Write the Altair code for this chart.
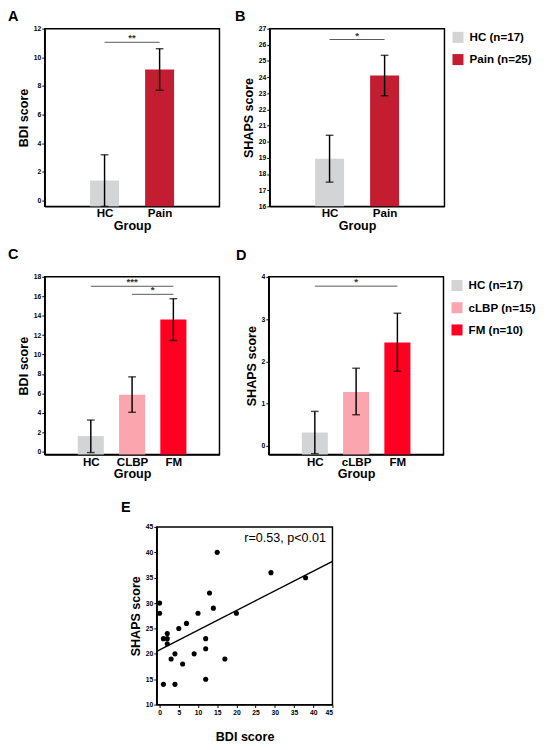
import altair as alt
import pandas as pd

FONT = "Liberation Sans"

# ---------------- Panels A / B : HC vs Pain ----------------
ab_groups = ["HC", "Pain"]
ab_legend = ["HC (n=17)", "Pain (n=25)"]
ab_colors = ["#d2d4d6", "#c21d30"]

a_bdi_mean = [1.4, 9.15]
a_bdi_lo = [-0.4, 7.7]
a_bdi_hi = [3.2, 10.6]
a_sig_start = [1]
a_sig_end = [2]
a_sig_y = [11.05]
a_sig_label = ["**"]

b_shaps_mean = [18.95, 24.1]
b_shaps_lo = [17.5, 22.85]
b_shaps_hi = [20.4, 25.35]
b_sig_start = [1]
b_sig_end = [2]
b_sig_y = [26.33]
b_sig_label = ["*"]

# ---------------- Panels C / D : HC vs cLBP vs FM ----------------
c_groups = ["HC", "CLBP", "FM"]
d_groups = ["HC", "cLBP", "FM"]
cd_legend = ["HC (n=17)", "cLBP (n=15)", "FM (n=10)"]
cd_colors = ["#d2d4d6", "#fba5ae", "#fd0022"]

c_bdi_mean = [1.6, 5.85, 13.6]
c_bdi_lo = [-0.1, 4.05, 11.45]
c_bdi_hi = [3.25, 7.7, 15.75]
c_sig_start = [1, 2]
c_sig_end = [3, 3]
c_sig_y = [17.03, 16.2]
c_sig_label = ["***", "*"]

d_shaps_mean = [0.32, 1.28, 2.45]
d_shaps_lo = [-0.18, 0.74, 1.77]
d_shaps_hi = [0.82, 1.84, 3.14]
d_sig_start = [1]
d_sig_end = [3]
d_sig_y = [3.78]
d_sig_label = ["*"]

# ---------------- Panel E : scatter ----------------
e_bdi = [0, 0, 1, 1, 2, 2, 2, 3, 4, 4, 5, 6, 7, 9, 10, 12, 12, 12, 13, 14, 15, 17, 20, 29, 38]
e_shaps = [30, 28, 23, 14, 24, 23, 22, 19, 20, 14, 25, 18, 26, 20, 28, 23, 21, 15, 32, 29, 40, 19, 28, 36, 35]
e_annotation = "r=0.53, p<0.01"


def bar_panel(letter, groups, legend_labels, colors, mean, lo, hi, ydomain, yticks, ytitle,
              sig_start, sig_end, sig_y, sig_label, bar_size, show_legend, letter_dx, letter_offset):
    n = len(groups)
    df = pd.DataFrame({
        "pos": list(range(1, n + 1)),
        "group": groups,
        "legend": legend_labels,
        "mean": mean,
        "lo": lo,
        "hi": hi,
    })
    label_expr = "[" + ",".join(["''"] + ["'%s'" % g for g in groups]) + "][datum.value]"
    x_scale = alt.Scale(domain=[0, n + 1], nice=False, zero=False)
    x_axis = alt.Axis(values=list(range(1, n + 1)), labelExpr=label_expr, title="Group",
                      ticks=False, labelPadding=2, labelFontSize=12, labelFontWeight="bold",
                      titleFontSize=13, titlePadding=1, grid=False,
                      domainColor="black", domainWidth=1.5, labelColor="black")
    y_scale = alt.Scale(domain=ydomain, nice=False, zero=False)
    y_axis = alt.Axis(values=yticks, title=ytitle, labelFontSize=7, labelFontWeight="bold",
                      labelOverlap=False, labelBound=False,
                      tickSize=3, labelPadding=1, titleFontSize=13, titlePadding=3, grid=False,
                      domainColor="black", domainWidth=1.5, tickColor="black",
                      labelColor="black")
    xs = lambda f: alt.X(f, scale=x_scale, axis=x_axis)
    ys = lambda f: alt.Y(f, scale=y_scale, axis=y_axis)

    if show_legend:
        legend = alt.Legend(orient="none", legendX=189, legendY=3, title=None,
                            labelFont=FONT, labelFontWeight="bold", labelFontSize=12,
                            labelColor="black", symbolType="square", symbolSize=130,
                            symbolStrokeWidth=0, symbolOpacity=1, rowPadding=11, labelOffset=6)
    else:
        legend = None
    color = alt.Color("legend:N", scale=alt.Scale(domain=legend_labels, range=colors), legend=legend)

    bars = alt.Chart(df).mark_bar(size=bar_size, opacity=1).encode(
        x=xs("pos:Q"), y=ys("mean:Q"), y2=alt.datum(ydomain[0]), color=color)
    err = alt.Chart(df).mark_rule(color="black", strokeWidth=1.5).encode(
        x=xs("pos:Q"), y=ys("lo:Q"), y2="hi:Q")
    cap_lo = alt.Chart(df).mark_tick(orient="horizontal", size=8, thickness=1.5, color="black").encode(
        x=xs("pos:Q"), y=ys("lo:Q"))
    cap_hi = alt.Chart(df).mark_tick(orient="horizontal", size=8, thickness=1.5, color="black").encode(
        x=xs("pos:Q"), y=ys("hi:Q"))

    sig = pd.DataFrame({"start": sig_start, "end": sig_end, "level": sig_y, "label": sig_label})
    sig_line = alt.Chart(sig).mark_rule(color="#555555", strokeWidth=1).encode(
        x=xs("start:Q"), x2="end:Q", y=ys("level:Q"))
    sig_text = alt.Chart(sig).transform_calculate(mid="(datum.start + datum.end) / 2").mark_text(
        baseline="bottom", dy=1, fontSize=10, fontWeight="bold", font=FONT, color="#333333").encode(
        x=xs("mid:Q"), y=ys("level:Q"), text="label:N")

    return alt.layer(bars, err, cap_lo, cap_hi, sig_line, sig_text).properties(
        width=181, height=184,
        title=alt.TitleParams(letter, anchor="start", frame="group", dx=letter_dx,
                              offset=letter_offset, fontSize=15, fontWeight="bold", font=FONT),
    )


A = bar_panel("A", ab_groups, ab_legend, ab_colors, a_bdi_mean, a_bdi_lo, a_bdi_hi,
              [-0.4, 12], list(range(0, 13, 2)), "BDI score",
              a_sig_start, a_sig_end, a_sig_y, a_sig_label, 30, False, -38, 1)
B = bar_panel("B", ab_groups, ab_legend, ab_colors, b_shaps_mean, b_shaps_lo, b_shaps_hi,
              [16, 27], list(range(16, 28)), "SHAPS score",
              b_sig_start, b_sig_end, b_sig_y, b_sig_label, 30, True, -36, 1)
C = bar_panel("C", c_groups, cd_legend, cd_colors, c_bdi_mean, c_bdi_lo, c_bdi_hi,
              [-0.3, 18], list(range(0, 19, 2)), "BDI score",
              c_sig_start, c_sig_end, c_sig_y, c_sig_label, 27, False, -38, 12)
D = bar_panel("D", d_groups, cd_legend, cd_colors, d_shaps_mean, d_shaps_lo, d_shaps_hi,
              [-0.2, 4], list(range(0, 5)), "SHAPS score",
              d_sig_start, d_sig_end, d_sig_y, d_sig_label, 27, True, -34, 10)

# ---------------- Panel E ----------------
edf = pd.DataFrame({"bdi": e_bdi, "shaps": e_shaps})
ex_scale = alt.Scale(domain=[-0.75, 45], nice=False, zero=False)
ex_axis = alt.Axis(values=list(range(0, 46, 5)), title="BDI score", labelFontSize=7,
                   labelFontWeight="bold", labelOverlap=False, labelBound=False,
                   tickSize=3, labelPadding=1, titleFontSize=13,
                   titlePadding=16, grid=False, domainColor="black", domainWidth=1.5,
                   tickColor="black", labelColor="black")
ey_scale = alt.Scale(domain=[10, 45], nice=False, zero=False)
ey_axis = alt.Axis(values=list(range(10, 46, 5)), title="SHAPS score", labelFontSize=7,
                   labelFontWeight="bold", labelOverlap=False, labelBound=False,
                   tickSize=3, labelPadding=1, titleFontSize=13,
                   titlePadding=3, grid=False, domainColor="black", domainWidth=1.5,
                   tickColor="black", labelColor="black")
ex = alt.X("bdi:Q", scale=ex_scale, axis=ex_axis)
ey = alt.Y("shaps:Q", scale=ey_scale, axis=ey_axis)
pts = alt.Chart(edf).mark_circle(size=28, color="black", opacity=1).encode(x=ex, y=ey)
reg = alt.Chart(edf).transform_regression("bdi", "shaps", extent=[-0.75, 45]).mark_line(
    color="black", strokeWidth=1.5).encode(x=ex, y=ey)
ann = alt.Chart(pd.DataFrame({"t": [e_annotation]})).mark_text(
    align="right", baseline="middle", fontSize=13, font=FONT, color="black").encode(
    x=alt.datum(43.3, scale=ex_scale, axis=ex_axis), y=alt.datum(42.7, scale=ey_scale, axis=ey_axis),
    text="t:N")
E = alt.layer(pts, reg, ann).properties(
    width=182, height=184,
    title=alt.TitleParams("E", anchor="start", frame="group", dx=-37, offset=8,
                          fontSize=15, fontWeight="bold", font=FONT),
)

spacer = alt.Chart(pd.DataFrame({"a": [0]})).mark_point(opacity=0).encode(
    x=alt.value(0), y=alt.value(0)).properties(width=16, height=10,
                                               view=alt.ViewBackground(strokeOpacity=0))

row1 = alt.hconcat(A, B, spacing=52, bounds="flush").resolve_scale(color="independent")
row2 = alt.hconcat(C, D, spacing=51, bounds="flush").resolve_scale(color="independent")
row3 = alt.hconcat(spacer, E, spacing=100, bounds="flush")

top = alt.vconcat(row1, row2, spacing=13).resolve_scale(color="independent")
chart = alt.vconcat(top, row3, spacing=19).resolve_scale(
    color="independent").properties(padding={"left": -1, "top": -13, "right": 5, "bottom": 5}).configure(
    font=FONT).configure_view(stroke="black", strokeWidth=1.5).configure_axis(
    labelFont=FONT, titleFont=FONT, titleFontWeight="bold", titleColor="black")

chart.save("out.html", embed_options={"renderer": "svg", "actions": False})
